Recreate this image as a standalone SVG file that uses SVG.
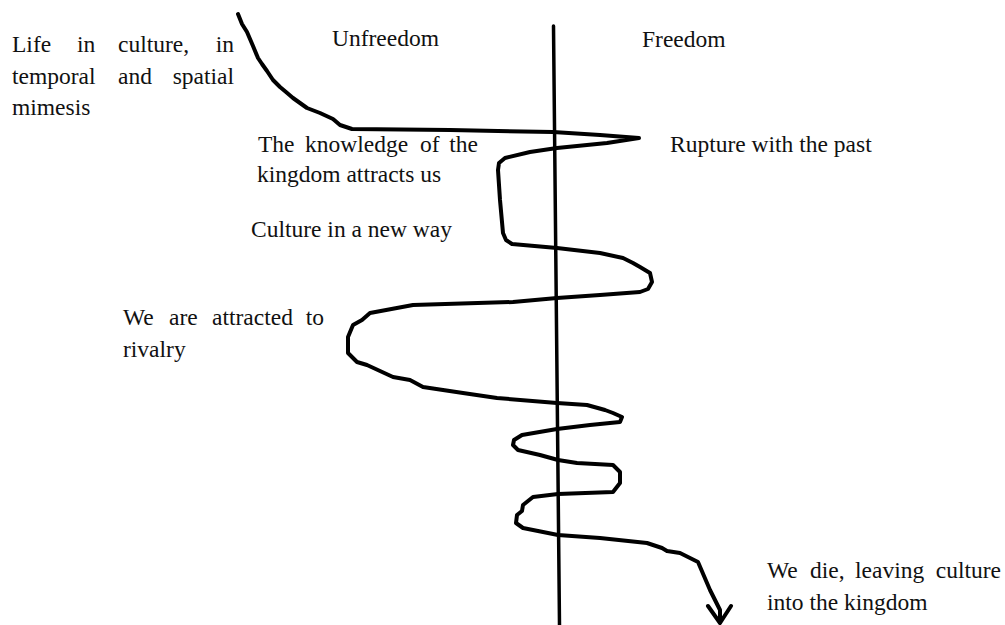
<svg xmlns="http://www.w3.org/2000/svg" width="1005" height="625" viewBox="0 0 1005 625">
  <style>
    text { font-family: "Liberation Serif", "Times New Roman", serif; font-size: 23.5px; fill: #111; }
    .e { text-anchor: end; }
    .stroke { fill: none; stroke: #000; stroke-linecap: round; stroke-linejoin: round; }
  </style>
  <rect width="1005" height="625" fill="#fff"/>
  <g id="connectors">
    <line id="axis" class="stroke" x1="553.5" y1="26" x2="559.5" y2="625" stroke-width="3.5"/>
    <path id="life-path" class="stroke" stroke-width="4" d="M238,14 L242,24 L247,32 L253,46 L258,58 L262,64 L267,71 L273,80 L280,87 L286,92 L293,98 L300,103 L307,108 L320,113 L333,119 L340,125 L352,129 L450,130 L553,132 L600,135 L639,138 L607,143 L557,148 L530,152 L505,158 L499,163 L498,170 L500,200 L503,233 L506,240 L512,244 L557,248 L600,253 L623,258 L633,263 L640,267 L650,273 L652,282 L648,289 L640,292 L600,295 L557,298 L513,302 L413,305 L370,313 L362,320 L353,325 L348,337 L348,353 L357,362 L367,365 L393,377 L410,380 L423,387 L463,393 L497,398 L557,403 L587,405 L605,410 L613,413 L622,417 L620,422 L590,425 L557,429 L522,435 L514,440 L513,445 L518,450 L540,455 L558,460 L577,463 L613,465 L620,472 L620,483 L613,492 L558,494 L533,497 L523,505 L522,511 L517,515 L516,523 L523,528 L558,535 L600,538 L647,543 L662,548 L667,551 L680,553 L698,562 L710,590 L720,610 L720,622"/>
    <polyline id="arrowhead" class="stroke" stroke-width="4" points="708,606 720,623 731,606"/>
  </g>
  <g id="node-life">
    <text x="12" y="52">Life</text><text x="77" y="52">in</text><text x="118" y="52">culture,</text><text class="e" x="234" y="52">in</text>
    <text x="12" y="84">temporal</text><text x="118" y="84">and</text><text class="e" x="234" y="84">spatial</text>
    <text x="12" y="115">mimesis</text>
  </g>
  <g id="node-unfreedom"><text x="332" y="46">Unfreedom</text></g>
  <g id="node-freedom"><text x="642" y="47">Freedom</text></g>
  <g id="node-knowledge">
    <text x="258" y="152">The</text><text x="305" y="152">knowledge</text><text x="420" y="152">of</text><text class="e" x="478" y="152">the</text>
    <text x="257" y="182">kingdom attracts us</text>
  </g>
  <g id="node-rupture"><text x="670" y="152">Rupture with the past</text></g>
  <g id="node-culture-new"><text x="251" y="237">Culture in a new way</text></g>
  <g id="node-rivalry">
    <text x="123" y="325">We</text><text x="169" y="325">are</text><text x="212" y="325">attracted</text><text class="e" x="324" y="325">to</text>
    <text x="123" y="357">rivalry</text>
  </g>
  <g id="node-die">
    <text x="767" y="578">We</text><text x="810" y="578">die,</text><text x="855" y="578">leaving</text><text class="e" x="1001" y="578">culture</text>
    <text x="767" y="610">into the kingdom</text>
  </g>
</svg>
